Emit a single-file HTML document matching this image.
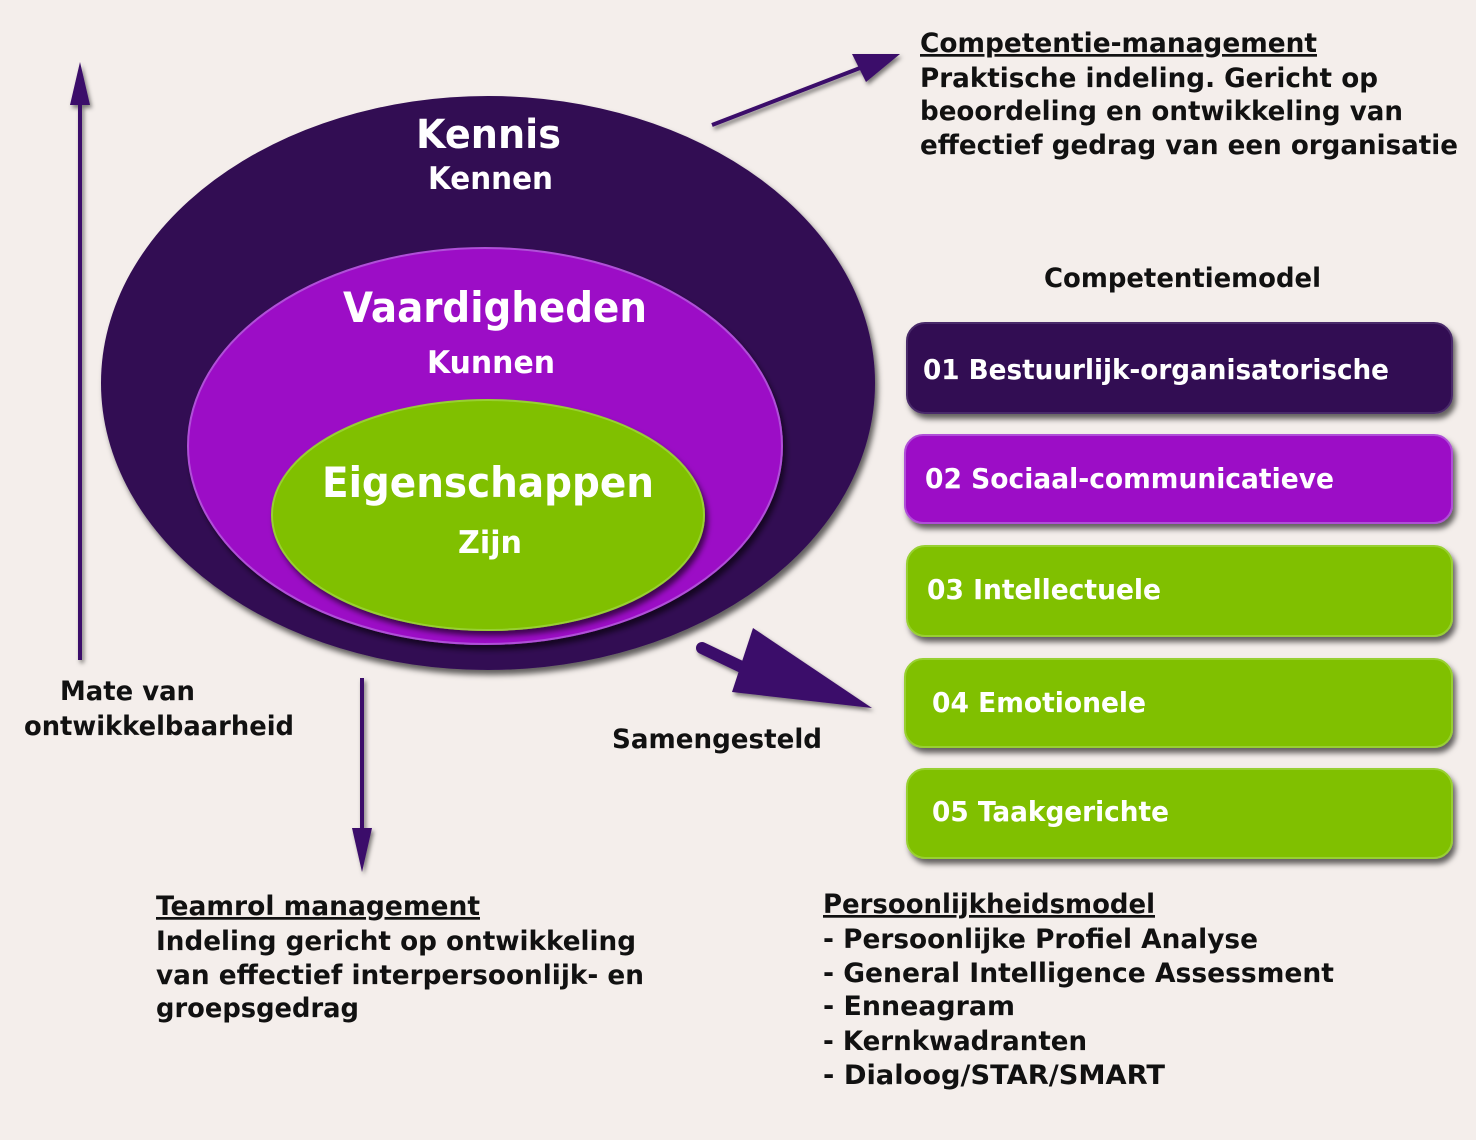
<!DOCTYPE html>
<html><head><meta charset="utf-8"><style>
html,body{margin:0;padding:0;background:#f4eeeb;}
svg{display:block;}
text{font-family:"DejaVu Sans","Liberation Sans",sans-serif;font-weight:bold;}
</style></head><body>
<svg width="1476" height="1140" viewBox="0 0 1476 1140" xmlns="http://www.w3.org/2000/svg">
<defs>
<filter id="sh" x="-10%" y="-10%" width="125%" height="130%"><feDropShadow dx="3" dy="5" stdDeviation="3" flood-color="#000" flood-opacity="0.6"/></filter>
<filter id="sh2" x="-10%" y="-10%" width="125%" height="130%"><feDropShadow dx="2" dy="3" stdDeviation="2" flood-color="#000" flood-opacity="0.5"/></filter>
</defs>
<rect width="1476" height="1140" fill="#f4eeeb"/>
<ellipse cx="488" cy="383" rx="387" ry="287" fill="#300a52" filter="url(#sh)"/>
<ellipse cx="485" cy="446" rx="297" ry="198" fill="#9c10c6" stroke="#b050d8" stroke-width="2" filter="url(#sh)"/>
<ellipse cx="488" cy="515" rx="216" ry="115" fill="#80c000" stroke="#98d030" stroke-width="2" filter="url(#sh)"/>
<g fill="#fff" lengthAdjust="spacingAndGlyphs">
<text x="416" y="148" font-size="40" textLength="145" lengthAdjust="spacingAndGlyphs">Kennis</text>
<text x="428" y="189" font-size="31" textLength="125" lengthAdjust="spacingAndGlyphs">Kennen</text>
<text x="343" y="322" font-size="42" textLength="304" lengthAdjust="spacingAndGlyphs">Vaardigheden</text>
<text x="427" y="373" font-size="31" textLength="128" lengthAdjust="spacingAndGlyphs">Kunnen</text>
<text x="322" y="497" font-size="42" textLength="332" lengthAdjust="spacingAndGlyphs">Eigenschappen</text>
<text x="458" y="553" font-size="31" textLength="64" lengthAdjust="spacingAndGlyphs">Zijn</text>
</g>
<g fill="#3a0a6a" stroke="#3a0a6a" filter="url(#sh2)">
<line x1="80" y1="660" x2="80" y2="100" stroke-width="4"/>
<polygon points="80,62 70,105 90,105" stroke="none"/>
<line x1="362" y1="678" x2="362" y2="835" stroke-width="4"/>
<polygon points="362,872 352,828 372,828" stroke="none"/>
<line x1="712" y1="125" x2="860" y2="68" stroke-width="4"/>
<polygon points="900,54 852,54 866,82" stroke="none"/>
<line x1="702" y1="648" x2="748" y2="670" stroke-width="12" stroke-linecap="round"/>
<polygon points="753,628 732,692 872,708" stroke="none"/>
</g>
<g filter="url(#sh)">
<rect x="907" y="323" width="545" height="90" rx="18" fill="#300a52" stroke="#4a2a6a" stroke-width="2"/>
<rect x="905" y="435" width="547" height="88" rx="18" fill="#9c10c6" stroke="#b050d8" stroke-width="2"/>
<rect x="907" y="546" width="545" height="90" rx="18" fill="#80c000" stroke="#98d030" stroke-width="2"/>
<rect x="905" y="659" width="547" height="88" rx="18" fill="#80c000" stroke="#98d030" stroke-width="2"/>
<rect x="907" y="769" width="545" height="89" rx="18" fill="#80c000" stroke="#98d030" stroke-width="2"/>
</g>
<g fill="#fff" font-size="28">
<text x="923" y="379" textLength="466" lengthAdjust="spacingAndGlyphs">01 Bestuurlijk-organisatorische</text>
<text x="925" y="488" textLength="409" lengthAdjust="spacingAndGlyphs">02 Sociaal-communicatieve</text>
<text x="927" y="599" textLength="234" lengthAdjust="spacingAndGlyphs">03 Intellectuele</text>
<text x="932" y="712" textLength="214" lengthAdjust="spacingAndGlyphs">04 Emotionele</text>
<text x="932" y="821" textLength="237" lengthAdjust="spacingAndGlyphs">05 Taakgerichte</text>
</g>
<g fill="#111" font-size="27">
<text x="1044" y="287" textLength="277" lengthAdjust="spacingAndGlyphs">Competentiemodel</text>
<text x="920" y="52" text-decoration="underline" textLength="397" lengthAdjust="spacingAndGlyphs">Competentie-management</text>
<text x="920" y="87" textLength="458" lengthAdjust="spacingAndGlyphs">Praktische indeling. Gericht op</text>
<text x="920" y="120" textLength="483" lengthAdjust="spacingAndGlyphs">beoordeling en ontwikkeling van</text>
<text x="920" y="154" textLength="538" lengthAdjust="spacingAndGlyphs">effectief gedrag van een organisatie</text>
<text x="60" y="700" textLength="135" lengthAdjust="spacingAndGlyphs">Mate van</text>
<text x="24" y="735" textLength="270" lengthAdjust="spacingAndGlyphs">ontwikkelbaarheid</text>
<text x="612" y="748" textLength="210" lengthAdjust="spacingAndGlyphs">Samengesteld</text>
<text x="156" y="915" text-decoration="underline" textLength="324" lengthAdjust="spacingAndGlyphs">Teamrol management</text>
<text x="156" y="950" textLength="480" lengthAdjust="spacingAndGlyphs">Indeling gericht op ontwikkeling</text>
<text x="156" y="984" textLength="488" lengthAdjust="spacingAndGlyphs">van effectief interpersoonlijk- en</text>
<text x="156" y="1017" textLength="203" lengthAdjust="spacingAndGlyphs">groepsgedrag</text>
<text x="823" y="913" text-decoration="underline" textLength="332" lengthAdjust="spacingAndGlyphs">Persoonlijkheidsmodel</text>
<text x="823" y="948" textLength="435" lengthAdjust="spacingAndGlyphs">- Persoonlijke Profiel Analyse</text>
<text x="823" y="982" textLength="511" lengthAdjust="spacingAndGlyphs">- General Intelligence Assessment</text>
<text x="823" y="1015" textLength="192" lengthAdjust="spacingAndGlyphs">- Enneagram</text>
<text x="823" y="1050" textLength="264" lengthAdjust="spacingAndGlyphs">- Kernkwadranten</text>
<text x="823" y="1084" textLength="342" lengthAdjust="spacingAndGlyphs">- Dialoog/STAR/SMART</text>
</g>
</svg>
</body></html>
